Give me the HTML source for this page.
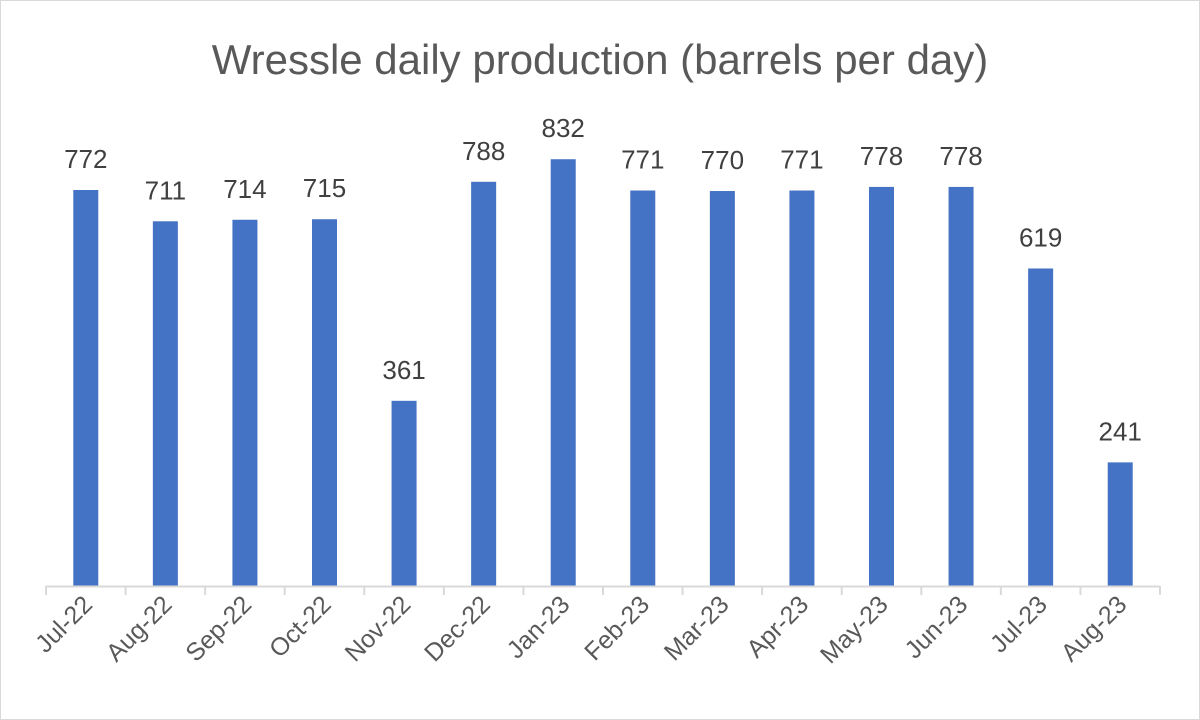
<!DOCTYPE html>
<html><head><meta charset="utf-8"><style>
html,body{margin:0;padding:0;background:#fff}
svg{display:block}
text{font-family:"Liberation Sans",sans-serif}
</style></head><body>
<svg width="1200" height="720" viewBox="0 0 1200 720">
<rect x="0.5" y="0.5" width="1199" height="719" fill="#fff" stroke="#d9d9d9"/>
<text x="600" y="74" text-anchor="middle" font-size="42" fill="#595959">Wressle daily production (barrels per day)</text>
<g id="bars"></g>
<line x1="46" y1="586.5" x2="1160" y2="586.5" stroke="#d9d9d9" stroke-width="2"/>
<g id="ticks"></g>
</svg>
<script>
var v=[772,711,714,715,361,788,832,771,770,771,778,778,619,241];
var n=["Jul-22","Aug-22","Sep-22","Oct-22","Nov-22","Dec-22","Jan-23","Feb-23","Mar-23","Apr-23","May-23","Jun-23","Jul-23","Aug-23"];
var s=396/772,step=(1160-46)/14,h="",t="";
for(var i=0;i<14;i++){var c=46+step*(i+0.5),y=586-v[i]*s;
h+='<rect x="'+(c-12.5)+'" y="'+y+'" width="25" height="'+(586-y)+'" fill="#4472c4"/>';
h+='<text x="'+c+'" y="'+(y-22)+'" text-anchor="middle" font-size="26" fill="#404040">'+v[i]+'</text>';
h+='<text transform="translate('+(c+8)+',606) rotate(-45)" text-anchor="end" font-size="25" fill="#595959">'+n[i]+'</text>';}
for(var i=0;i<=14;i++){var x=46+step*i;t+='<line x1="'+x+'" y1="586" x2="'+x+'" y2="595" stroke="#d9d9d9" stroke-width="2"/>';}
document.getElementById("bars").innerHTML=h;document.getElementById("ticks").innerHTML=t;
</script>
</body></html>
